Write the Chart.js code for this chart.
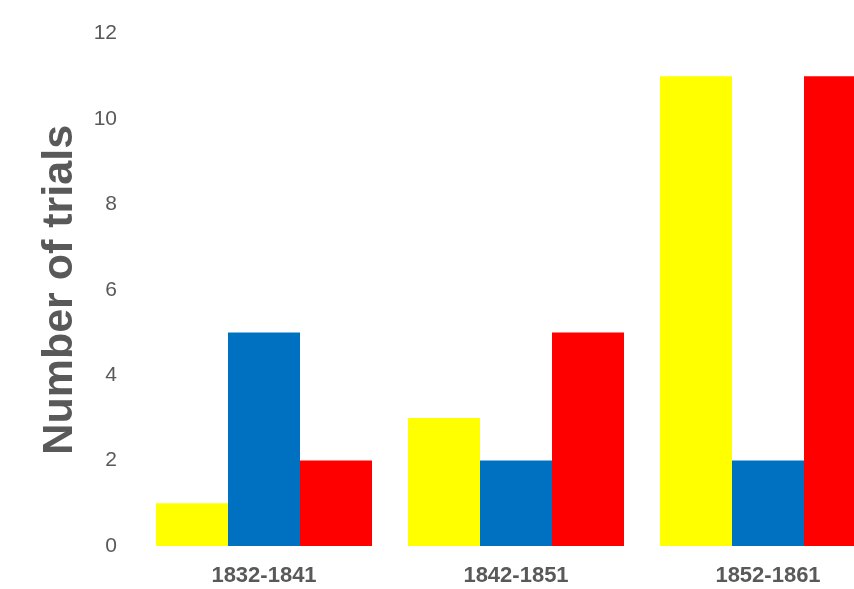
<!DOCTYPE html>
<html>
<head>
<meta charset="utf-8">
<script src="https://cdn.jsdelivr.net/npm/chart.js@4"></script>
<style>
  html, body { margin: 0; padding: 0; background: #fff; overflow: hidden; }
  .grafico { width: 854px; height: 589px; overflow: hidden; position: relative; }
  .grafico div { width: 900px; height: 589px; }
</style>
</head>
<body>
<div class="grafico"><div><canvas id="chart"></canvas></div></div>
<script>
const labels = ["1832-1841", "1842-1851", "1852-1861"];
const yellowValues = [1, 3, 11];
const blueValues = [5, 2, 2];
const redValues = [2, 5, 11];
const yTicks = [0, 2, 4, 6, 8, 10, 12];

const grey = "#595959";

new Chart(document.getElementById("chart").getContext("2d"), {
    type: "bar",
    data: {
        labels: labels,
        datasets: [
            { label: "Series 1", data: yellowValues, backgroundColor: "#FFFF00" },
            { label: "Series 2", data: blueValues, backgroundColor: "#0070C0" },
            { label: "Series 3", data: redValues, backgroundColor: "#FF0000" },
        ]
    },
    options: {
        responsive: true,
        maintainAspectRatio: false,
        animation: false,
        layout: { padding: { top: 28, right: 6, left: 0, bottom: 0 } },
        plugins: { legend: { display: false }, tooltip: { enabled: false } },
        datasets: { bar: { categoryPercentage: 216 / 252, barPercentage: 1.0 } },
        scales: {
            x: {
                grid: { display: false, drawTicks: false },
                border: { display: false },
                ticks: { color: grey, padding: 17, font: { family: "Liberation Sans", size: 22, weight: "bold" } },
                afterFit: (s) => { s.height = 43; }
            },
            y: {
                min: 0,
                max: 12,
                grid: { display: false, drawTicks: false },
                border: { display: false },
                afterBuildTicks: (s) => { s.ticks = yTicks.map(v => ({ value: v })); },
                ticks: { color: grey, padding: 21, font: { family: "Liberation Sans", size: 21 } },
                title: {
                    display: true,
                    text: "Number of trials",
                    color: grey,
                    padding: { top: 34, bottom: 0 },
                    font: { family: "Liberation Sans", size: 43, weight: "bold", lineHeight: 1.2 }
                },
                afterFit: (s) => { s.width = 138; }
            }
        }
    }
});
</script>
</body>
</html>
